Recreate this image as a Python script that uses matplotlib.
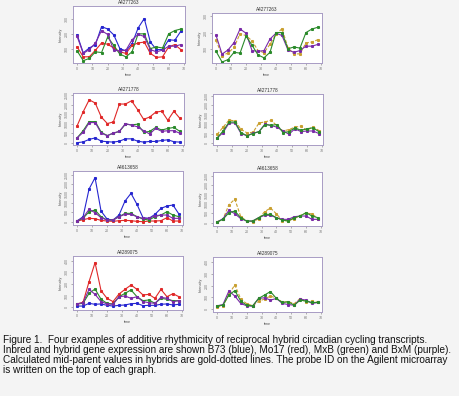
import numpy as np
import matplotlib
matplotlib.use("Agg")
import matplotlib.pyplot as plt

plt.rcParams['font.family'] = ['Liberation Sans', 'DejaVu Sans']

W, H = 459, 396

time = [0, 4, 8, 12, 16, 20, 24, 28, 32, 36, 40, 44, 48, 52, 56, 60, 64, 68]

# A4277263
p1_blue = [193, 71, 104, 127, 249, 233, 193, 100, 84, 133, 240, 304, 144, 93, 93, 160, 156, 218]
p1_red = [111, 44, 44, 89, 138, 129, 104, 78, 67, 122, 138, 144, 67, 40, 44, 111, 127, 93]
p1_green = [84, 18, 33, 78, 73, 178, 122, 62, 44, 78, 200, 200, 100, 111, 104, 200, 222, 233]
p1_purple = [182, 67, 93, 138, 222, 196, 89, 84, 89, 160, 196, 182, 93, 78, 89, 116, 116, 127]
p1_gold = [152, 58, 74, 108, 194, 181, 149, 89, 76, 128, 189, 224, 106, 67, 69, 136, 142, 156]

# A4271778
p2_blue = [20, 60, 190, 270, 100, 70, 50, 100, 220, 220, 100, 50, 85, 85, 135, 170, 70, 50]
p2_red = [895, 1622, 2247, 2078, 1351, 1014, 1098, 2027, 2027, 2196, 1740, 1233, 1351, 1605, 1655, 1182, 1655, 1284]
p2_green = [270, 642, 1115, 1115, 557, 389, 507, 608, 980, 946, 980, 557, 608, 811, 676, 760, 811, 608]
p2_purple = [270, 557, 1064, 1064, 507, 389, 524, 608, 1014, 929, 845, 642, 473, 760, 608, 642, 642, 507]
p2_gold = [458, 841, 1219, 1174, 726, 542, 574, 1064, 1124, 1208, 920, 642, 718, 845, 895, 676, 863, 667]

# A4613658
p3_blue = [36, 268, 1750, 2357, 571, 143, 89, 357, 1107, 1518, 929, 214, 179, 393, 714, 839, 893, 411]
p3_red = [36, 107, 179, 161, 71, 36, 18, 54, 71, 54, 18, 0, 36, 36, 54, 214, 36, 36]
p3_green = [36, 179, 536, 625, 268, 89, 89, 268, 446, 446, 268, 143, 89, 268, 357, 536, 357, 268]
p3_purple = [36, 214, 661, 482, 214, 89, 89, 268, 393, 393, 268, 179, 179, 321, 357, 357, 179, 179]
p3_gold = [36, 188, 965, 1259, 321, 90, 54, 206, 589, 786, 474, 107, 108, 215, 384, 527, 465, 224]

# A4289075
p4_blue = [11, 11, 34, 26, 29, 17, 11, 17, 20, 31, 34, 14, 17, 17, 26, 29, 20, 26]
p4_red = [29, 43, 220, 383, 143, 77, 49, 114, 154, 191, 154, 106, 111, 77, 154, 91, 117, 91]
p4_green = [29, 34, 120, 157, 69, 34, 29, 91, 120, 149, 91, 57, 63, 34, 77, 69, 57, 57]
p4_purple = [29, 40, 154, 111, 49, 29, 26, 91, 97, 77, 91, 49, 40, 34, 86, 77, 49, 57]
p4_gold = [20, 27, 127, 205, 86, 47, 30, 66, 87, 111, 94, 60, 64, 47, 90, 60, 69, 59]

probe_ids = ["A4277263", "A4271778", "A4613658", "A4289075"]

caption = [
    "Figure 1.  Four examples of additive rhythmicity of reciprocal hybrid circadian cycling transcripts.",
    "Inbred and hybrid gene expression are shown B73 (blue), Mo17 (red), MxB (green) and BxM (purple).",
    "Calculated mid-parent values in hybrids are gold-dotted lines. The probe ID on the Agilent microarray",
    "is written on the top of each graph.",
]

BLUE, RED, GREEN, PURPLE, GOLD = '#2626d0', '#e02828', '#2a8a2a', '#7a2aa8', '#c9a030'
BOX = '#a89cc4'

fig = plt.figure(figsize=(W / 100, H / 100), dpi=100, facecolor='#f4f4f4')


def px_axes(x0, y0, x1, y1):
    return fig.add_axes([x0 / W, 1 - y1 / H, (x1 - x0) / W, (y1 - y0) / H])


def draw_panel(ax, title, series, ylim, yticks):
    for vals, col, ls in series:
        ax.plot(time, vals, color=col, lw=0.8, ls=ls, marker='s', ms=1.2,
                mec=col, mfc=col)
    ax.set_xlim(-2.72, 70.72)
    ax.set_ylim(*ylim)
    ax.set_xticks(range(0, 71, 10))
    ax.set_yticks(yticks)
    ax.set_yticklabels([str(t) for t in yticks], rotation=90, va='center')
    ax.tick_params(labelsize=2.6, length=1.5, width=0.4, colors='#777777', pad=1.5)
    for s in ax.spines.values():
        s.set_color(BOX)
        s.set_linewidth(0.7)
    ax.set_facecolor('white')
    ax.set_title(title, fontsize=3.4, pad=1.5, color='#333333')
    ax.set_xlabel("time", fontsize=2.8, labelpad=1.5, color='#555555')
    ax.set_ylabel("Intensity", fontsize=2.8, labelpad=1.5, color='#555555')


rows = [
    (p1_blue, p1_red, p1_green, p1_purple, p1_gold,
     (73, 6, 185, 63), (212, 13, 322, 63), (2, 389), (12, 321), [100, 200, 300]),
    (p2_blue, p2_red, p2_green, p2_purple, p2_gold,
     (73, 93, 184, 145), (213, 94, 323, 145), (-100, 2600), (-100, 2600), [0, 500, 1000, 1500, 2000, 2500]),
    (p3_blue, p3_red, p3_green, p3_purple, p3_gold,
     (73, 171, 183, 225), (213, 172, 322, 226), (-177, 2716), (-177, 2716), [0, 500, 1000, 1500, 2000, 2500]),
    (p4_blue, p4_red, p4_green, p4_purple, p4_gold,
     (73, 256, 183, 310), (213, 257, 322, 312), (-23, 440), (-23, 440), [0, 100, 200, 300, 400]),
]

for i, (b, r, g, p, gd, boxl, boxr, yl_l, yl_r, yt) in enumerate(rows):
    axl = px_axes(*boxl)
    draw_panel(axl, probe_ids[i],
               [(b, BLUE, '-'), (r, RED, '-'), (g, GREEN, '-'), (p, PURPLE, '-')],
               yl_l, yt)
    axr = px_axes(*boxr)
    draw_panel(axr, probe_ids[i],
               [(gd, GOLD, (0, (3, 1.5))), (p, PURPLE, '-'), (g, GREEN, '-')],
               yl_r, yt)

for k, line in enumerate(caption):
    fig.text(3 / W, 1 - (340 + 10 * k) / H, line, fontsize=7.2, va='center',
             ha='left', color='#111111')

fig.savefig("out.png", dpi=100, facecolor=fig.get_facecolor())
